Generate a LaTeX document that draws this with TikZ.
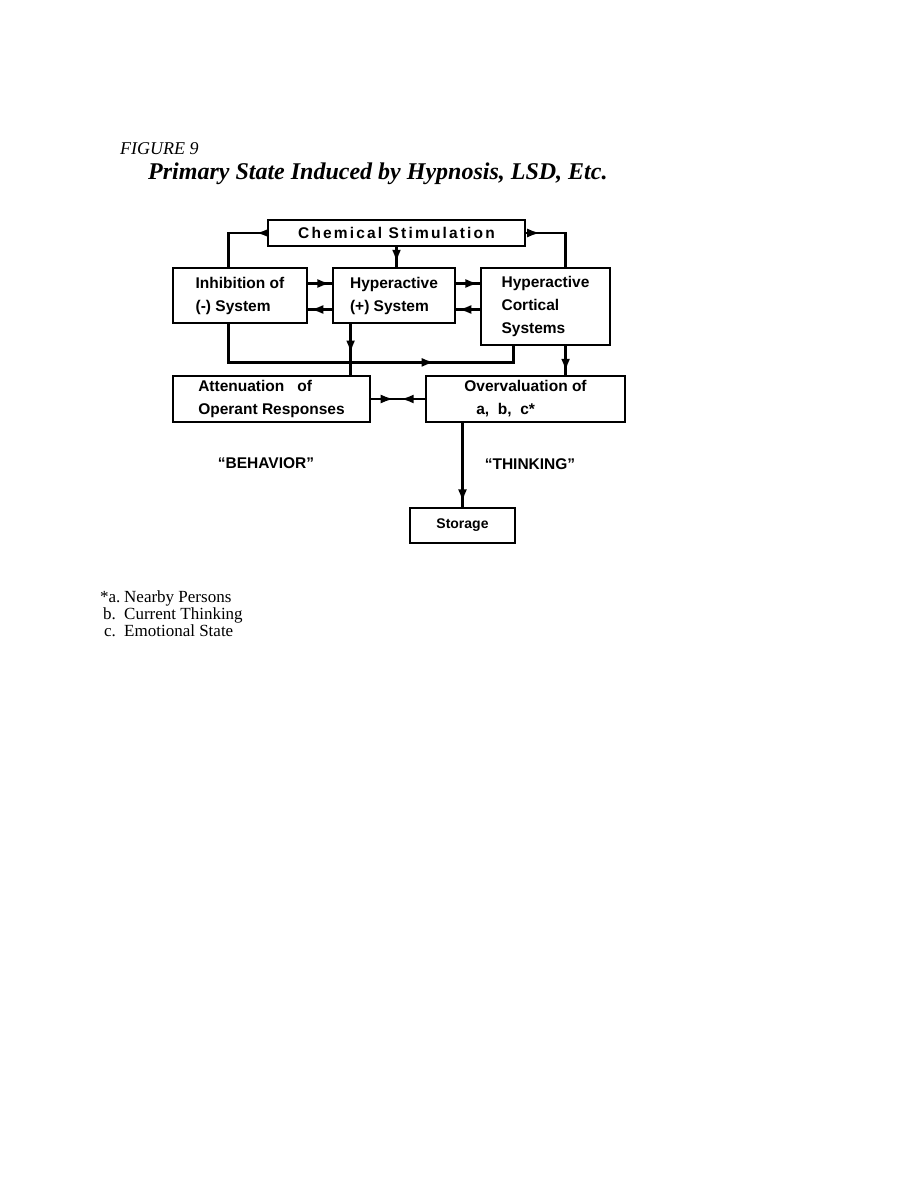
\documentclass[tikz,border=0pt]{standalone}
\usepackage{fontspec}
\setmainfont{Liberation Serif}
\setsansfont{Liberation Sans}
\usetikzlibrary{arrows.meta,decorations.markings}
\newcommand{\boxfont}{\sffamily\bfseries\fontsize{15.5}{23}\selectfont}
\tikzset{
  box/.style={draw, line width=2.8pt, inner sep=0pt, font=\boxfont, align=left},
  conn/.style={line width=2.6pt},
  tip/.tip={Latex[length=13pt,width=9pt]},
  midarr/.style={postaction={decorate}, decoration={markings, mark=at position #1 with {\arrow{tip}}}},
  lbl/.style={font=\boxfont, inner sep=0pt},
}
\begin{document}
\begin{tikzpicture}[x=1pt,y=-1pt]
\useasboundingbox (0,0) rectangle (918,1188);
\fill[white] (0,0) rectangle (918,1188);
% titles
\node[anchor=west, inner sep=0pt, font=\itshape\fontsize{18}{22}\selectfont] (fig) at (120,149) {FIGURE 9};
\node[anchor=west, inner sep=0pt, font=\bfseries\itshape\fontsize{24}{28}\selectfont] (title) at (148,174) {Primary State Induced by Hypnosis, LSD, Etc.};
% boxes
\node[box, minimum width=257, minimum height=26, align=center] (chem) at (396.5,233) {\addfontfeature{LetterSpace=14}Chemical Stimulation};
\node[box, minimum width=134, minimum height=55] (inhib) at (240,295.5) {Inhibition of\\(-) System};
\node[box, minimum width=122, minimum height=55] (hyp) at (394,295.5) {Hyperactive\\(+) System};
\node[box, minimum width=129, minimum height=77] (cort) at (545.5,306.5) {Hyperactive\\Cortical\\Systems};
\node[box, minimum width=197, minimum height=46] (atten) at (271.5,399) {Attenuation~~~of\\Operant Responses};
\node[box, minimum width=199, minimum height=46] (over) at (525.5,399) {Overvaluation of\\\hspace*{12pt}a,~~b,~~c*};
\node[box, minimum width=105, minimum height=35, align=center, font=\sffamily\bfseries\fontsize{14}{16}\selectfont] (stor) at (462.5,525.5) {Storage};
% labels
\node[lbl] (beh) at (266,463) {``BEHAVIOR''};
\node[lbl] (thk) at (530,464) {``THINKING''};
% connectors
\draw[conn, midarr=0.15] (chem.west) -| ([xshift=57pt]inhib.north west);
\draw[conn, midarr=0.19] (chem.east) -| ([xshift=86pt]cort.north west);
\draw[conn, midarr=0.8] (chem.south) -- (chem.south |- hyp.north);
\draw[conn, midarr=0.95] ([yshift=12pt]inhib.east) -- ([yshift=12pt]inhib.east -| hyp.west);
\draw[conn, midarr=0.92] ([yshift=-14pt]hyp.west) -- ([yshift=-14pt]hyp.west -| inhib.east);
\draw[conn, midarr=0.95] ([yshift=12pt]hyp.east) -- ([yshift=12pt]hyp.east -| cort.west);
\draw[conn, midarr=0.92] ([yshift=-14pt]hyp.east -| cort.west) -- ([yshift=-14pt]hyp.east);
\draw[conn, midarr=0.72] ([xshift=57pt]inhib.south west) |- ([xshift=34pt,yshift=-16pt]cort.south west) -- ([xshift=34pt]cort.south west);
\draw[conn, midarr=0.58] ([xshift=19pt]hyp.south west) -- ([xshift=19pt]hyp.south west |- atten.north);
\draw[conn, midarr=0.9] ([xshift=86pt]cort.south west) -- ([xshift=86pt]cort.south west |- over.north);
\draw[conn, postaction={decorate}, decoration={markings,
   mark=at position 0.42 with {\arrow{tip}},
   mark=at position 0.55 with {\arrowreversed{tip}}}] (atten.east) -- (over.west);
\draw[conn, midarr=0.95] (stor.north |- over.south) -- (stor.north);
% footnote
\begin{scope}[font=\fontsize{17}{17}\selectfont]
\node[anchor=base west, inner sep=0pt] (fa) at (100,602) {*a.};
\node[anchor=base west, inner sep=0pt] (fb) at (103,619) {b.};
\node[anchor=base west, inner sep=0pt] (fc) at (104,636) {c.};
\node[anchor=base west, inner sep=0pt] (ta) at (124,602) {Nearby Persons};
\node[anchor=base west, inner sep=0pt] (tb) at (124,619) {Current Thinking};
\node[anchor=base west, inner sep=0pt] (tc) at (124,636) {Emotional State};
\end{scope}
\end{tikzpicture}
\end{document}
